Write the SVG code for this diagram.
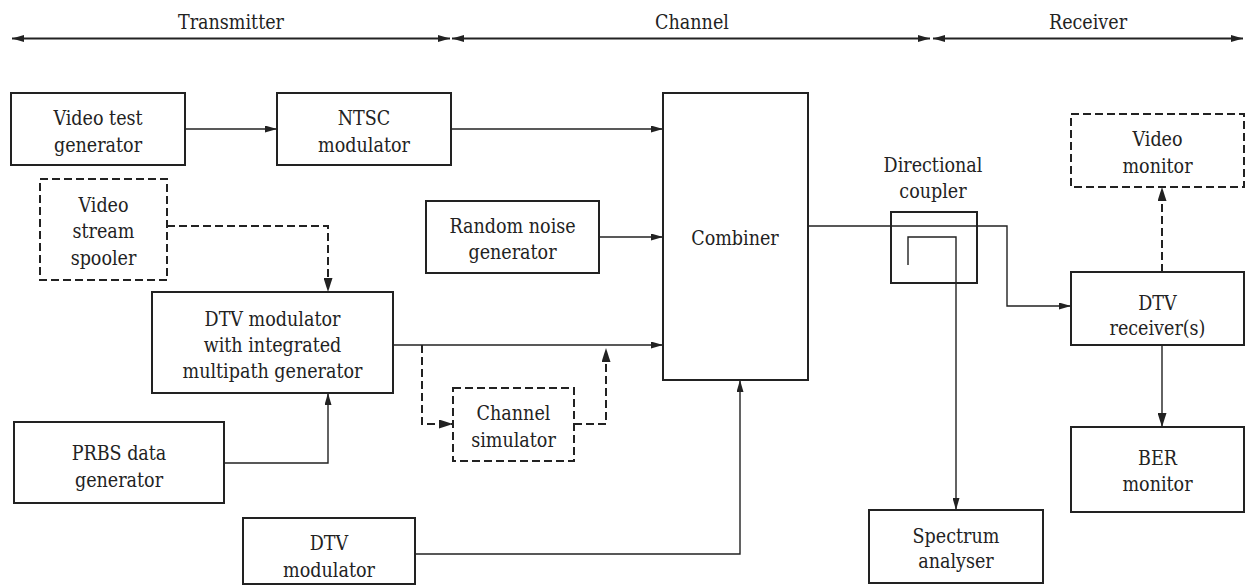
<svg xmlns="http://www.w3.org/2000/svg" width="1245" height="587" viewBox="0 0 1245 587">
<defs>
<marker id="arr" viewBox="0 0 12 7" refX="12" refY="3.5" markerWidth="12" markerHeight="7" markerUnits="userSpaceOnUse" orient="auto-start-reverse">
<path d="M0,0 L12,3.5 L0,7 Z" fill="#222"/>
</marker>
<marker id="arrb" viewBox="0 0 14 9" refX="14" refY="4.5" markerWidth="14" markerHeight="9" markerUnits="userSpaceOnUse" orient="auto">
<path d="M0,0 L14,4.5 L0,9 Z" fill="#222"/>
</marker>
</defs>
<style>
.box{fill:#fff;stroke:#222;stroke-width:2}
.dbox{fill:#fff;stroke:#222;stroke-width:2;stroke-dasharray:8,4}
.ln{fill:none;stroke:#222;stroke-width:1.4}
.dln{fill:none;stroke:#222;stroke-width:2;stroke-dasharray:8,4}
.hd{fill:none;stroke:#222;stroke-width:2}
</style>
<rect width="1245" height="587" fill="#fff"/>
<g font-family="'DejaVu Serif Condensed', 'DejaVu Serif', serif" font-stretch="condensed" font-size="19.5" fill="#222" text-anchor="middle">
<g id="header">
<line class="hd" x1="12" y1="38.5" x2="450" y2="38.5" marker-start="url(#arr)" marker-end="url(#arr)"/>
<line class="hd" x1="452" y1="38.5" x2="930" y2="38.5" marker-start="url(#arr)" marker-end="url(#arr)"/>
<line class="hd" x1="933" y1="38.5" x2="1243" y2="38.5" marker-start="url(#arr)" marker-end="url(#arr)"/>
<text x="231" y="29">Transmitter</text>
<text x="692" y="29">Channel</text>
<text x="1088" y="29">Receiver</text>
</g>
<g id="connectors">
<path class="ln" d="M185,129 H277" marker-end="url(#arr)"/>
<path class="ln" d="M451,129 H663" marker-end="url(#arr)"/>
<path class="ln" d="M599,237 H663" marker-end="url(#arr)"/>
<path class="ln" d="M393,345 H663" marker-end="url(#arr)"/>
<path class="dln" d="M167,226 H328 V292" marker-end="url(#arrb)"/>
<path class="ln" d="M224,463 H328 V393" marker-end="url(#arr)"/>
<path class="dln" d="M422,345 V424 H453" marker-end="url(#arrb)"/>
<path class="dln" d="M574,424 H606 V348" marker-end="url(#arrb)"/>
<path class="ln" d="M415,554 H740 V380" marker-end="url(#arr)"/>
<path class="ln" d="M808,226 H1007 V306 H1071" marker-end="url(#arr)"/>
<path class="ln" d="M908,265 V237 H956 V510" marker-end="url(#arr)"/>
<path class="dln" d="M1162,272 V187" marker-end="url(#arrb)"/>
<path class="ln" d="M1162,345 V427" marker-end="url(#arrb)"/>
</g>
<g id="video-test-generator">
<rect class="box" x="11" y="93" width="174" height="72"/>
<text x="98" y="125">Video test</text>
<text x="98" y="152">generator</text>
</g>
<g id="ntsc-modulator">
<rect class="box" x="277" y="93" width="174" height="72"/>
<text x="364" y="125">NTSC</text>
<text x="364" y="152">modulator</text>
</g>
<g id="video-stream-spooler">
<rect class="dbox" x="40" y="179" width="127" height="101"/>
<text x="103.5" y="212">Video</text>
<text x="103.5" y="238">stream</text>
<text x="103.5" y="265">spooler</text>
</g>
<g id="dtv-modulator-multipath">
<rect class="box" x="152" y="292" width="241" height="101"/>
<text x="272.5" y="326">DTV modulator</text>
<text x="272.5" y="352">with integrated</text>
<text x="272.5" y="378">multipath generator</text>
</g>
<g id="prbs-data-generator">
<rect class="box" x="14" y="422" width="210" height="81"/>
<text x="119" y="460">PRBS data</text>
<text x="119" y="487">generator</text>
</g>
<g id="dtv-modulator">
<rect class="box" x="243" y="518" width="172" height="66"/>
<text x="329" y="550">DTV</text>
<text x="329" y="577">modulator</text>
</g>
<g id="random-noise-generator">
<rect class="box" x="426" y="201" width="173" height="72"/>
<text x="512.5" y="233">Random noise</text>
<text x="512.5" y="259">generator</text>
</g>
<g id="combiner">
<rect class="box" x="663" y="93" width="145" height="287"/>
<text x="735" y="245">Combiner</text>
</g>
<g id="channel-simulator">
<rect class="dbox" x="453" y="388" width="121" height="73"/>
<text x="513.5" y="420">Channel</text>
<text x="513.5" y="447">simulator</text>
</g>
<g id="directional-coupler">
<rect x="891" y="212" width="86" height="71" fill="none" stroke="#222" stroke-width="2"/>
<text x="933" y="172">Directional</text>
<text x="933" y="198">coupler</text>
</g>
<g id="spectrum-analyser">
<rect class="box" x="869" y="510" width="174" height="73"/>
<text x="956" y="543">Spectrum</text>
<text x="956" y="568">analyser</text>
</g>
<g id="video-monitor">
<rect class="dbox" x="1071" y="114" width="173" height="73"/>
<text x="1157.5" y="146">Video</text>
<text x="1157.5" y="173">monitor</text>
</g>
<g id="dtv-receivers">
<rect class="box" x="1071" y="272" width="173" height="73"/>
<text x="1157.5" y="310">DTV</text>
<text x="1157.5" y="335">receiver(s)</text>
</g>
<g id="ber-monitor">
<rect class="box" x="1071" y="427" width="173" height="85"/>
<text x="1157.5" y="465">BER</text>
<text x="1157.5" y="491">monitor</text>
</g>
</g>
</svg>
